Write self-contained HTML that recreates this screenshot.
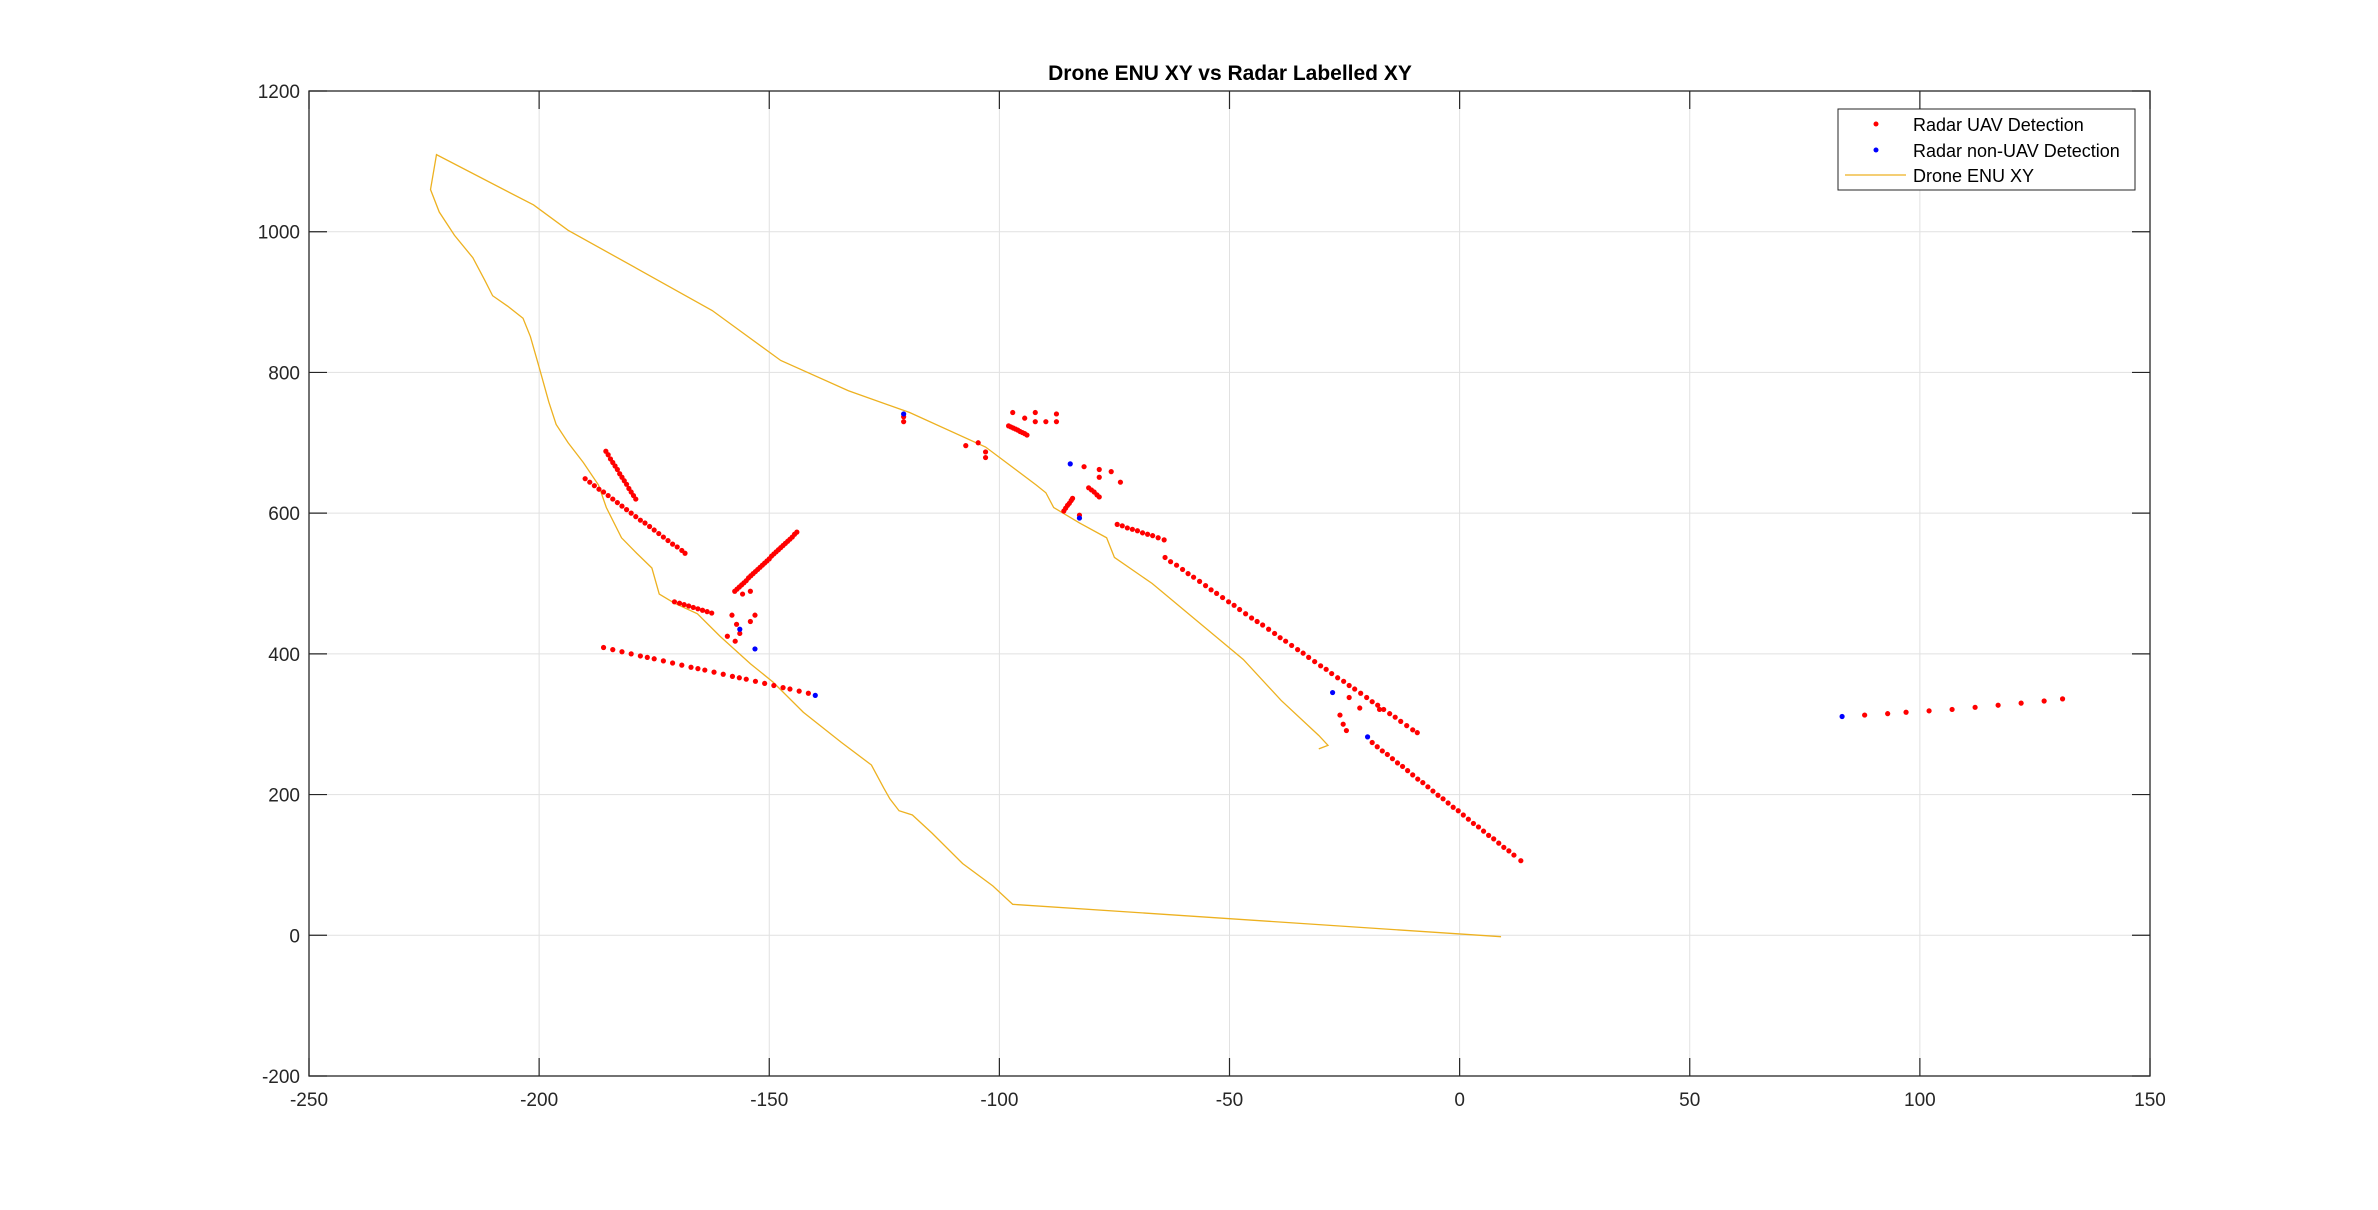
<!DOCTYPE html>
<html><head><meta charset="utf-8"><style>
html,body{margin:0;padding:0;background:#fff;}
svg{display:block;font-family:"Liberation Sans",Arial,sans-serif;}
</style></head><body>
<svg id="chart" width="2378" height="1210" xmlns="http://www.w3.org/2000/svg">
<rect width="2378" height="1210" fill="#fff"/>
<text x="1230" y="80" text-anchor="middle" font-size="21" font-weight="bold" fill="#000">Drone ENU XY vs Radar Labelled XY</text>
<g id="grid"></g>
<g id="plot"></g>
<g id="axes"></g>
<g>
<rect x="1838" y="109" width="297" height="81" fill="#fff" stroke="#262626" stroke-width="1"/>
<circle cx="1876" cy="124" r="2.5" fill="#ff0000"/>
<text x="1913" y="131" font-size="18" fill="#000">Radar UAV Detection</text>
<circle cx="1876" cy="150" r="2.5" fill="#0000ff"/>
<text x="1913" y="157" font-size="18" fill="#000">Radar non-UAV Detection</text>
<line x1="1845" y1="175" x2="1906" y2="175" stroke="#EDB120" stroke-width="1.3"/>
<text x="1913" y="182" font-size="18" fill="#000">Drone ENU XY</text>
</g>
</svg>
<script>
const xTicks = [-250,-200,-150,-100,-50,0,50,100,150];
const yTicks = [-200,0,200,400,600,800,1000,1200];
const dronePath = [[-30.6,265],[-28.6,270],[-30.6,284],[-38.8,334],[-47.0,392],[-56.9,446],[-66.8,500],[-75.0,537],[-76.7,565],[-82.6,586],[-88.2,608],[-89.9,629],[-92,640],[-103.0,694],[-119.5,743],[-132.8,774],[-147.5,817],[-162.4,888],[-177.2,942],[-193.7,1002],[-201.2,1038],[-222.3,1109.5],[-223.6,1060],[-221.7,1028],[-218.4,995],[-214.4,963],[-211.8,931],[-210.1,909],[-206.8,894],[-203.5,877],[-201.9,851],[-200.2,812],[-199.3,791],[-197.9,758],[-196.3,726],[-193.7,700],[-190.4,672],[-187.1,640],[-185.4,608],[-182.1,565],[-178.8,543],[-175.5,522],[-173.9,485],[-170.6,472],[-165.6,457],[-160.7,425],[-154.1,386],[-149.2,360],[-142.6,317],[-134.3,274],[-127.8,242],[-125.1,209],[-123.8,194],[-121.8,177],[-118.9,171],[-114.6,145],[-108.0,102],[-101.4,70],[-97.1,44],[9.0,-2]];
const uavPoints = [
[-186,409],[-184,406],[-182,403],[-180,400],[-178,397],[-176.5,395],[-175,393],[-173,390],[-171,387],[-169,384],[-167,381],[-165.5,379],[-164,377],[-162,374],[-160,371],[-158,368],[-156.5,366],[-155,364],[-153,361],[-151,358],[-149,355],[-147,352],[-145.5,350],[-143.5,347],[-141.5,344],
[-190,649],[-189,644],[-188,639],[-187,634],[-186,630],[-185,625],[-184,620],[-183,615],[-182,610],[-181,605],[-180,600],[-179,595],[-178,590],[-177,586],[-176,581],[-175,576],[-174,571],[-173,566],[-172,561],[-171,556],[-170,552],[-169,547],[-168.3,543],
[-185.5,688],[-185,683],[-184.5,677],[-184,672],[-183.5,667],[-183,662],[-182.5,656],[-182,651],[-181.5,646],[-181,641],[-180.5,635],[-180,630],[-179.5,625],[-179,620],
[-157.5,489],[-157,492],[-156.5,495],[-156,498],[-155.5,501],[-155,504],[-154.5,508],[-154,511],[-153.5,514],[-153,517],[-152.5,520],[-152,523],[-151.5,526],[-151,529],[-150.5,532],[-150,535],[-149.5,539],[-149,542],[-148.5,545],[-148,548],[-147.5,551],[-147,554],[-146.5,557],[-146,560],[-145.5,563],[-145,566],[-144.5,570],[-144,573],
[-170.6,474],[-169.5,472],[-168.5,470],[-167.5,468],[-166.5,466],[-165.5,464],[-164.5,462],[-163.5,460],[-162.5,458],
[-158.1,455],[-157.1,442],[-156.4,429],[-159.1,425],[-157.4,418],[-153.1,455],[-154.1,446],[-155.8,485],[-154.1,489],
[-120.8,737],[-120.8,730],
[-107.3,696],[-104.6,700],[-103.0,687],[-103.0,679],
[-98,724],[-97.5,722.5],[-97,721],[-96.5,719.5],[-96,718],[-95.5,716],[-95,714.5],[-94.5,713],[-94,711],
[-97.1,743],[-94.5,735],[-92.2,743],[-92.2,730],[-89.9,730],[-87.6,741],[-87.6,730],
[-81.6,666],[-78.3,662],[-75.7,659],[-78.3,651],[-73.7,644],
[-86,603],[-85.6,607],[-85.2,611],[-84.8,614],[-84.4,618],[-84.1,621],[-82.6,597],
[-80.6,636],[-80,633],[-79.4,630],[-78.8,626],[-78.3,623],
[-74.4,584],[-73.3,582],[-72.2,579],[-71.1,577],[-70,575],[-68.9,572],[-67.8,570],[-66.7,568],[-65.5,565],[-64.2,562],
[-64,537],[-62.8,531],[-61.5,526],[-60.2,520],[-59,514],[-57.8,509],[-56.5,503],[-55.2,497],[-54,491],[-52.8,486],[-51.5,480],[-50.2,474],[-49,469],[-47.8,463],[-46.5,457],[-45.2,451],[-44,446],[-42.8,441],[-41.5,435],[-40.2,429],[-39,423],[-37.8,418],[-36.5,412],[-35.2,406],[-34,401],[-32.8,395],[-31.5,389],[-30.2,383],[-29,378],[-27.8,372],[-26.5,366],[-25.2,361],[-24,355],[-22.8,350],[-21.5,344],[-20.2,338],[-19,332],[-17.8,327],[-16.5,321],[-15.2,315],[-14,310],[-12.8,304],[-11.5,298],[-10.2,292],[-9.2,288],
[-26.0,313],[-25.3,300],[-24.6,291],[-24.0,338],[-21.7,323],[-17.4,321],
[-19,274],[-17.9,268],[-16.8,262],[-15.7,257],[-14.6,251],[-13.5,245],[-12.4,240],[-11.3,234],[-10.2,228],[-9.1,222],[-8,217],[-6.9,211],[-5.8,205],[-4.7,199],[-3.6,194],[-2.5,188],[-1.4,182],[-0.3,177],[0.8,171],[1.9,165],[3,159],[4.1,154],[5.2,148],[6.3,142],[7.4,137],[8.5,131],[9.6,125],[10.7,120],[11.8,114],[13.3,106],
[88,313],[93,315],[97,317],[102,319],[107,321],[112,324],[117,327],[122,330],[127,333],[131,336]
];
const nonUavPoints = [[-120.8,741],[-156.4,435],[-153.1,407],[-140,341],[-84.6,670],[-82.6,593],[-27.6,345],[-20,282],[83.1,311]];

const L=309,R=2150,T=91,B=1076;
const xMin=-250,xMax=150,yMin=-200,yMax=1200;
const sx=v=>L+(v-xMin)/(xMax-xMin)*(R-L);
const sy=v=>B-(v-yMin)/(yMax-yMin)*(B-T);
const NS='http://www.w3.org/2000/svg';
function mk(tag,attrs,parent){const e=document.createElementNS(NS,tag);for(const k in attrs)e.setAttribute(k,attrs[k]);parent.appendChild(e);return e;}
const grid=document.getElementById('grid'),plot=document.getElementById('plot'),axes=document.getElementById('axes');
xTicks.forEach(t=>{
  const g=mk('line',{x1:sx(t),x2:sx(t),y1:T,y2:B,stroke:'#e1e1e1','stroke-width':1},grid);
  
  
  const tk=mk('path',{d:`M${sx(t)},${B}v-18M${sx(t)},${T}v18`,stroke:'#262626','stroke-width':1.2,fill:'none'},axes);
  
  
  const lb=mk('text',{x:sx(t),y:B+30,'text-anchor':'middle','font-size':19,fill:'#262626'},axes);
  lb.textContent=t;
  
  
});
yTicks.forEach(t=>{
  const g=mk('line',{x1:L,x2:R,y1:sy(t),y2:sy(t),stroke:'#e1e1e1','stroke-width':1},grid);
  
  
  const tk=mk('path',{d:`M${L},${sy(t)}h18M${R},${sy(t)}h-18`,stroke:'#262626','stroke-width':1.2,fill:'none'},axes);
  
  
  const lb=mk('text',{x:L-9,y:sy(t)+7,'text-anchor':'end','font-size':19,fill:'#262626'},axes);
  lb.textContent=t;
  
  
});
const box=mk('rect',{x:L,y:T,width:R-L,height:B-T,fill:'none',stroke:'#262626','stroke-width':1.3},axes);


const line=mk('polyline',{points:dronePath.map(p=>sx(p[0])+','+sy(p[1])).join(' '),fill:'none',stroke:'#EDB120','stroke-width':1.3},plot);


uavPoints.forEach(p=>{
  const c=mk('circle',{cx:sx(p[0]),cy:sy(p[1]),r:2.6,fill:'#ff0000'},plot);
  
  
});
nonUavPoints.forEach(p=>{
  const c=mk('circle',{cx:sx(p[0]),cy:sy(p[1]),r:2.6,fill:'#0000ff'},plot);
  
  
});
</script>
</body></html>
